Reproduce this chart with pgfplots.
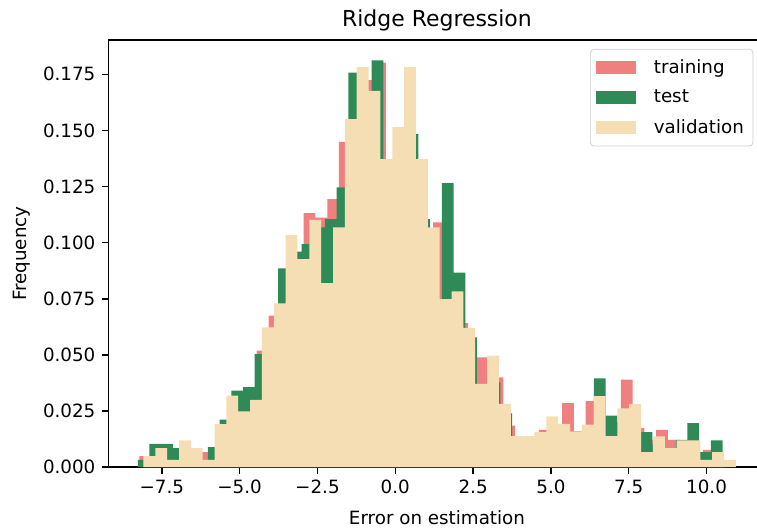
\documentclass[border=0pt]{standalone}
\usepackage{fontspec}
\setmainfont{DejaVu Sans}
\usepackage{pgfplots}
\usepackage{pgfplotstable}
\pgfplotsset{compat=1.18}
\usetikzlibrary{calc}

\definecolor{trainc}{HTML}{F08080}
\definecolor{testc}{HTML}{2E8B57}
\definecolor{valc}{HTML}{F5DEB3}

% bin left edges and heights (last row closes the final bin)
\pgfplotstableread{
x y
-8.224 0.0049
-7.847 0.0068
-7.469 0.0085
-7.092 0.0068
-6.714 0.0050
-6.337 0.0067
-5.959 0.0080
-5.582 0.0180
-5.205 0.0260
-4.827 0.0280
-4.450 0.0519
-4.072 0.0675
-3.695 0.0850
-3.317 0.0900
-2.940 0.1132
-2.563 0.1112
-2.185 0.1194
-1.808 0.1449
-1.430 0.1500
-1.053 0.1724
-0.675 0.1802
-0.298 0.1350
0.079 0.1500
0.457 0.1350
0.834 0.1050
1.212 0.1090
1.589 0.0800
1.967 0.0642
2.344 0.0489
2.721 0.0489
3.099 0.0400
3.476 0.0185
3.854 0.0120
4.231 0.0120
4.609 0.0166
4.986 0.0180
5.363 0.0285
5.741 0.0150
6.118 0.0294
6.496 0.0220
6.873 0.0200
7.251 0.0390
7.628 0.0174
8.005 0.0120
8.383 0.0166
8.760 0.0122
9.138 0.0100
9.515 0.0060
9.893 0.0077
10.270 0.0030
10.648 0
}\training

\pgfplotstableread{
x y
-8.272 0.0033
-7.896 0.0104
-7.521 0.0104
-7.145 0.0085
-6.769 0.0050
-6.393 0.0017
-6.018 0.0089
-5.642 0.0212
-5.266 0.0341
-4.891 0.0357
-4.515 0.0504
-4.139 0.0580
-3.763 0.0885
-3.388 0.0960
-3.012 0.0994
-2.636 0.1068
-2.260 0.1105
-1.885 0.1246
-1.509 0.1757
-1.133 0.1600
-0.758 0.1812
-0.382 0.1300
-0.006 0.1400
0.370 0.1483
0.745 0.1105
1.121 0.0700
1.497 0.1265
1.872 0.0867
2.248 0.0578
2.624 0.0300
3.000 0.0378
3.375 0.0240
3.751 0.0100
4.127 0.0120
4.502 0.0120
4.878 0.0180
5.254 0.0160
5.630 0.0159
6.005 0.0170
6.381 0.0396
6.757 0.0230
7.133 0.0200
7.508 0.0200
7.884 0.0156
8.260 0.0100
8.635 0.0068
9.011 0.0122
9.387 0.0196
9.763 0.0067
10.138 0.0119
10.514 0
}\test

\pgfplotstableread{
x y
-8.089 0.0049
-7.708 0.0085
-7.328 0.0033
-6.947 0.0119
-6.567 0.0085
-6.186 0.0033
-5.805 0.0192
-5.425 0.0319
-5.044 0.0248
-4.664 0.0300
-4.283 0.0623
-3.902 0.0730
-3.522 0.1034
-3.141 0.0927
-2.761 0.1102
-2.380 0.0820
-1.999 0.1068
-1.619 0.1550
-1.238 0.1782
-0.858 0.1676
-0.477 0.1372
-0.096 0.1516
0.284 0.1782
0.665 0.1372
1.045 0.1068
1.426 0.0749
1.807 0.0783
2.187 0.0620
2.568 0.0371
2.948 0.0497
3.329 0.0282
3.710 0.0138
4.090 0.0138
4.471 0.0156
4.851 0.0226
5.232 0.0193
5.613 0.0159
5.993 0.0190
6.374 0.0316
6.754 0.0138
7.135 0.0262
7.516 0.0282
7.896 0.0067
8.277 0.0137
8.657 0.0085
9.038 0.0119
9.419 0.0119
9.799 0.0033
10.180 0.0067
10.560 0.0033
10.941 0
}\validation

\pgfplotsset{histleg/.style={legend image code/.code={
  \fill[##1, sharp corners] (0pt,-3.65pt) rectangle (21.9pt,3.65pt);}}}

\begin{document}
\begin{tikzpicture}
\begin{axis}[name=ax, scale only axis, width=354.8pt, height=233.6pt,
  xmin=-9.22, xmax=11.62, ymin=0, ymax=0.19026,
  axis y line*=left,
  axis line style={line width=0.8pt},
  tick style={black, line width=0.8pt}, major tick length=3.5pt, tick align=outside,
  xtick pos=bottom, ytick pos=left,
  xtick={-7.5,-5,-2.5,0,2.5,5,7.5,10},
  xticklabels={−7.5,−5.0,−2.5,0.0,2.5,5.0,7.5,10.0},
  ytick={0,0.025,0.05,0.075,0.1,0.125,0.15,0.175},
  yticklabels={0.000,0.025,0.050,0.075,0.100,0.125,0.150,0.175},
  tick label style={font=\fontsize{10}{12}\selectfont},
  title={Ridge Regression},
  title style={at={(0.5067,1.0056)}, anchor=base, font=\fontsize{12}{14}\selectfont},
  xlabel={Error on estimation},
  xlabel style={at={(0.5067,-0.1336)}, anchor=base, font=\fontsize{10}{12}\selectfont},
  ylabel={Frequency},
  ylabel style={at={(-0.1330,0.5)}, anchor=center, font=\fontsize{10}{12}\selectfont},
  legend cell align=left,
  legend style={at={(0.7426,1)}, anchor=north west, yshift=-4.9pt,
    draw=black!20, fill=white, rounded corners=2pt,
    inner xsep=3pt, inner ysep=3.5pt, row sep=3.6pt,
    font=\fontsize{10}{12}\selectfont,
    /tikz/every odd column/.append style={column sep=7.8pt}}]
\addplot[ybar interval, fill=trainc, draw=none, histleg] table[x=x,y=y] {\training};
\addplot[ybar interval, fill=testc, draw=none, histleg] table[x=x,y=y] {\test};
\addplot[ybar interval, fill=valc, draw=none, histleg] table[x=x,y=y] {\validation};
\legend{training,test,validation}
\end{axis}
\pgfresetboundingbox
\path ([xshift=-59.2pt,yshift=-34.5pt]ax.south west) rectangle ([yshift=21.9pt]ax.north east);
\end{tikzpicture}
\end{document}
